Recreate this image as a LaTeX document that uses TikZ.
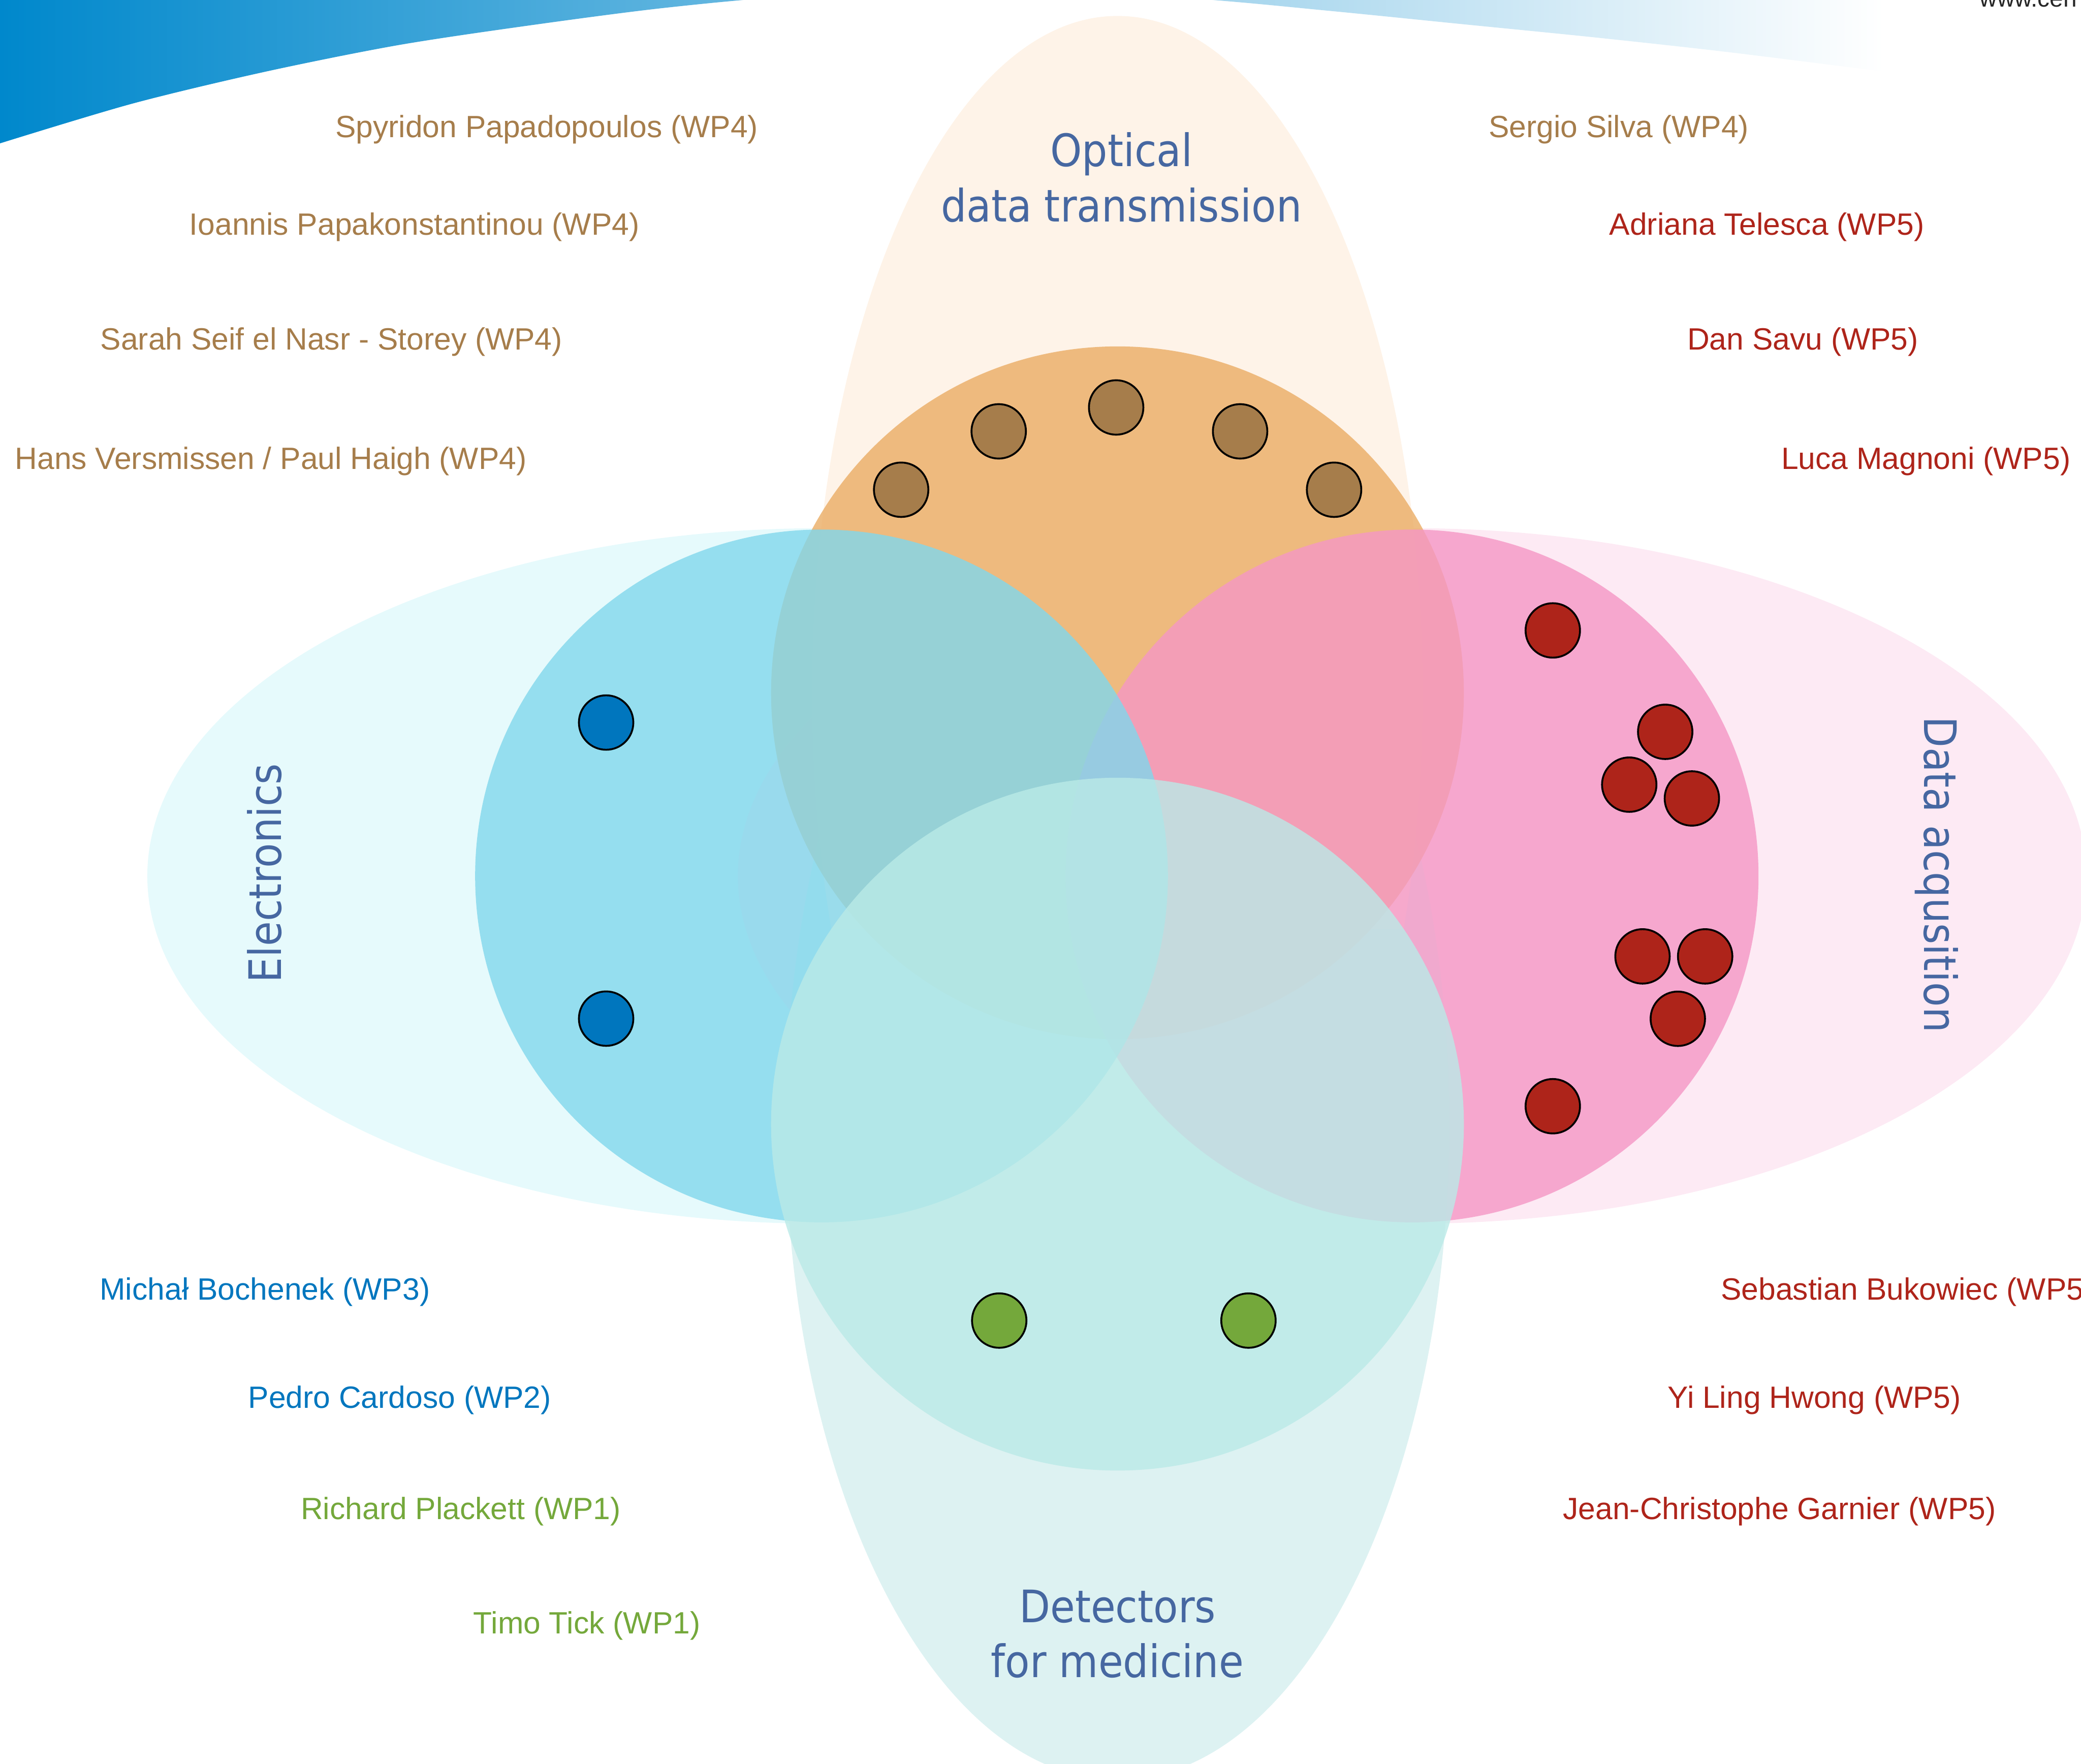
\documentclass[tikz,border=0pt]{standalone}
\usepackage{fontspec}
\setmainfont{Liberation Sans}
\newfontfamily\headfont{DejaVu Sans Condensed}
\definecolor{cernblue}{HTML}{0088CC}
\definecolor{headblue}{HTML}{4667A1}
\definecolor{optlight}{HTML}{FEF3E8}
\definecolor{ellight}{HTML}{E6FAFC}
\definecolor{daqlight}{HTML}{FDEAF4}
\definecolor{medlight}{HTML}{DDF2F2}
\definecolor{optdisc}{HTML}{EAAC64}
\definecolor{eldisc}{HTML}{81D7EC}
\definecolor{daqdisc}{HTML}{F597C5}
\definecolor{meddisc}{HTML}{BAEAE7}
\definecolor{wpfour}{HTML}{A67D4B}
\definecolor{wpfive}{HTML}{AE241A}
\definecolor{wpblue}{HTML}{0076BE}
\definecolor{wpgreen}{HTML}{74A83B}
\begin{document}
\begin{tikzpicture}[x=.1mm,y=-.1mm,
  dot/.style={circle,draw=black,line width=.4pt,minimum size=4.1mm,inner sep=0pt},
  who/.style={anchor=base west,inner sep=0pt,font=\fontsize{6.6}{8}\selectfont},
  head/.style={align=center,text=headblue,inner sep=0pt,font=\headfont\fontsize{9.6}{11.8}\selectfont},
  disc/.style={fill opacity=.8}]
\useasboundingbox (0,0) rectangle (1568,1329);
\clip (0,0) rectangle (1568,1329);
\shade[left color=cernblue,right color=white] (0,-30) -- plot[smooth] coordinates
  {(0,108) (100,78) (200,54) (300,34) (400,19) (500,6) (600,-3) (750,-9) (900,-1)
   (1000,8) (1100,18) (1200,28) (1300,39) (1420,54)} -- (1420,-30) -- cycle;
\node[anchor=base west,inner sep=0pt,text=black!85,font=\fontsize{5.2}{6}\selectfont] (web) at (1491,5) {www.cern.ch};
% the four fields
\fill[ellight] (619,660) ellipse [x radius=508,y radius=262];
\fill[daqlight] (1064,660) ellipse [x radius=508,y radius=262];
\fill[medlight] (842,847) ellipse [x radius=250,y radius=494];
\begin{scope}
\clip (0,0) rectangle (1568,700);
\fill[optlight] (842,522) ellipse [x radius=230,y radius=510];
\end{scope}
\fill[disc,optdisc] (842,522) circle [radius=261];
\fill[disc,daqdisc] (1064,660) circle [radius=261];
\fill[disc,eldisc] (619,660) circle [radius=261];
\fill[disc,meddisc] (842,847) circle [radius=261];
% headings
\node[head,anchor=base] (optical) at (845,167) {Optical\\data transmission};
\node[head,anchor=base] (detectors) at (842,1264) {Detectors\\for medicine};
\node[head,anchor=base,rotate=90] (electronics) at (211.7,658) {Electronics};
\node[head,anchor=base,rotate=-90] (daq) at (1449.8,659) {Data acqusition};
% people
\foreach \n/\x/\y in {1/679/369,2/752.5/325,3/841/307,4/934.4/325,5/1005.2/369}
  \node[dot,fill=wpfour] (opt\n) at (\x,\y) {};
\foreach \n/\x/\y in {1/456.7/544.4,2/456.7/767.5}
  \node[dot,fill=wpblue] (el\n) at (\x,\y) {};
\foreach \n/\x/\y in {1/1170/475,2/1254.7/551.4,3/1227.6/591.2,4/1274.8/601.6,
  5/1237.6/720.6,6/1284.8/720.6,7/1264.2/767.6,8/1170/833.5}
  \node[dot,fill=wpfive] (daq\n) at (\x,\y) {};
\foreach \n/\x/\y in {1/752.9/995,2/940.7/995}
  \node[dot,fill=wpgreen] (med\n) at (\x,\y) {};
\node[who,text=wpfour] (spyridon) at (252,103.4) {Spyridon Papadopoulos (WP4)};
\node[who,text=wpfour] (ioannis) at (142,177) {Ioannis Papakonstantinou (WP4)};
\node[who,text=wpfour] (sarah) at (75,263.4) {Sarah Seif el Nasr - Storey (WP4)};
\node[who,text=wpfour] (hans) at (10.7,353.7) {Hans Versmissen / Paul Haigh (WP4)};
\node[who,text=wpfour] (sergio) at (1121,103.4) {Sergio Silva (WP4)};
\node[who,text=wpfive] (adriana) at (1212,177) {Adriana Telesca (WP5)};
\node[who,text=wpfive] (dan) at (1270.7,263.4) {Dan Savu (WP5)};
\node[who,text=wpfive] (luca) at (1341.5,353.7) {Luca Magnoni (WP5)};
\node[who,text=wpblue] (michal) at (74.5,979.3) {Michał Bochenek (WP3)};
\node[who,text=wpblue] (pedro) at (186.4,1060.8) {Pedro Cardoso (WP2)};
\node[who,text=wpgreen] (richard) at (226,1144.7) {Richard Plackett (WP1)};
\node[who,text=wpgreen] (timo) at (356,1231) {Timo Tick (WP1)};
\node[who,text=wpfive] (sebastian) at (1296,979.3) {Sebastian Bukowiec (WP5)};
\node[who,text=wpfive] (yiling) at (1256,1060.8) {Yi Ling Hwong (WP5)};
\node[who,text=wpfive] (jean) at (1177,1144.7) {Jean-Christophe Garnier (WP5)};
\end{tikzpicture}
\end{document}
